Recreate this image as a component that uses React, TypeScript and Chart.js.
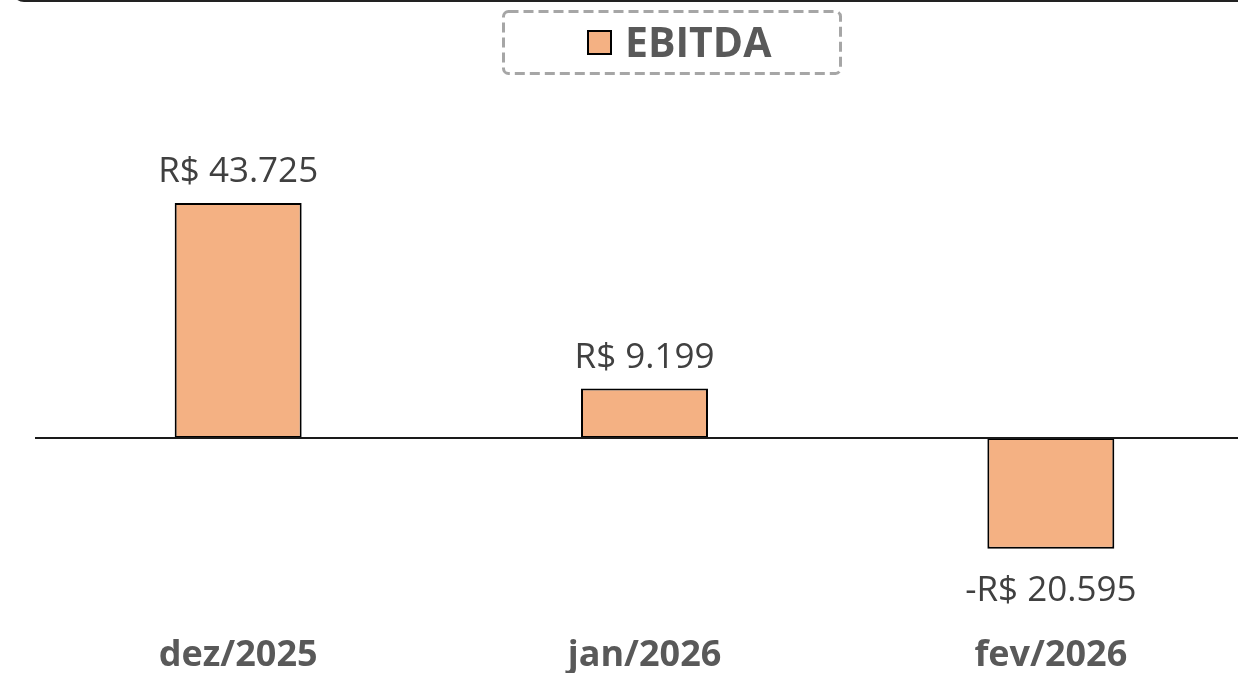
import React, { useEffect, useRef } from "react";
import { Chart, registerables } from "chart.js";

Chart.register(...registerables);

const categories = ["dez/2025", "jan/2026", "fev/2026"];
const ebitdaValues = [43725, 9199, -20595];
const seriesLabel = "EBITDA";
const yMin = -30000;
const yMax = 60000;

const barFill = "#F4B183";
const FONT = "'Open Sans', 'Noto Sans', sans-serif";

function formatBRL(v: number): string {
  const abs = Math.abs(Math.round(v));
  const s = String(abs).replace(/\B(?=(\d{3})+(?!\d))/g, ".");
  return (v < 0 ? "-" : "") + "R$ " + s;
}

const valueLabelPlugin = {
  id: "valueLabels",
  afterDatasetsDraw(chart: any) {
    const { ctx } = chart;
    const meta = chart.getDatasetMeta(0);
    const data = chart.data.datasets[0].data as number[];
    ctx.save();
    ctx.font = `400 35px ${FONT}`;
    ctx.fillStyle = "#404040";
    ctx.textAlign = "center";
    ctx.textBaseline = "alphabetic";
    meta.data.forEach((el: any, i: number) => {
      const v = data[i];
      const props = el.getProps(["x", "y", "base"], true);
      if (v >= 0) {
        ctx.fillText(formatBRL(v), props.x, props.y - 21);
      } else {
        ctx.fillText(formatBRL(v), props.x, props.y + 52);
      }
    });
    ctx.restore();
  },
};

const zeroLinePlugin = {
  id: "zeroLine",
  afterDatasetsDraw(chart: any) {
    const { ctx, chartArea } = chart;
    const y = Math.round(chart.scales.y.getPixelForValue(0));
    ctx.save();
    ctx.strokeStyle = "#1a1a1a";
    ctx.lineWidth = 2;
    ctx.beginPath();
    ctx.moveTo(chartArea.left, y);
    ctx.lineTo(chart.width, y);
    ctx.stroke();
    ctx.restore();
  },
};

export default function App() {
  const canvasRef = useRef<HTMLCanvasElement | null>(null);

  useEffect(() => {
    document.body.style.margin = "0";
    document.body.style.overflow = "hidden";
    const canvas = canvasRef.current;
    if (!canvas) return;
    const chart = new Chart(canvas, {
      type: "bar",
      data: {
        labels: categories,
        datasets: [
          {
            label: seriesLabel,
            data: ebitdaValues,
            backgroundColor: barFill,
            borderColor: "#000000",
            borderWidth: 2,
            borderSkipped: false,
            barPercentage: 0.3125,
            categoryPercentage: 1,
          },
        ],
      },
      options: {
        animation: false,
        responsive: false,
        maintainAspectRatio: false,
        layout: { padding: { left: 35, right: 16, top: 115.5, bottom: 1 } },
        plugins: {
          legend: { display: false },
          tooltip: { enabled: false },
        },
        scales: {
          x: {
            grid: { display: false, drawTicks: false },
            border: { display: false },
            afterFit: (scale: any) => {
              scale.height = 73.75;
            },
            ticks: {
              padding: 38,
              color: "#595959",
              font: { family: FONT, size: 36, weight: "bold", lineHeight: 1 },
            },
          },
          y: {
            display: false,
            min: yMin,
            max: yMax,
          },
        },
      },
      plugins: [zeroLinePlugin, valueLabelPlugin],
    });
    return () => chart.destroy();
  }, []);

  return (
    <div style={{ position: "fixed", left: 0, top: 0, width: 1238, height: 674, overflow: "hidden", background: "#fff" }}>
      <div
        style={{
          position: "absolute",
          left: 12,
          top: -38,
          width: 1300,
          height: 40,
          border: "2px solid #222",
          borderRadius: 12,
          boxSizing: "border-box",
        }}
      />
      <canvas ref={canvasRef} width={1270} height={674} style={{ position: "absolute", left: 0, top: 0, width: 1270, height: 674 }} />
      <div style={{ position: "absolute", left: 502, top: 10, width: 340, height: 65 }}>
        <svg width={340} height={65} style={{ position: "absolute", left: 0, top: 0 }}>
          <rect x={1.5} y={1.5} width={337} height={62} rx={5} ry={5} fill="none" stroke="#A6A6A6" strokeWidth={3} strokeDasharray="10 5" />
        </svg>
        <span
          style={{
            position: "absolute",
            left: 85,
            top: 20,
            width: 25,
            height: 25,
            boxSizing: "border-box",
            border: "2px solid #000",
            background: barFill,
          }}
        />
        <span
          style={{
            position: "absolute",
            left: 123,
            top: 11,
            fontFamily: FONT,
            fontWeight: 700,
            fontSize: 41,
            lineHeight: "41px",
            color: "#595959",
            whiteSpace: "nowrap",
          }}
        >
          {seriesLabel}
        </span>
      </div>
    </div>
  );
}
